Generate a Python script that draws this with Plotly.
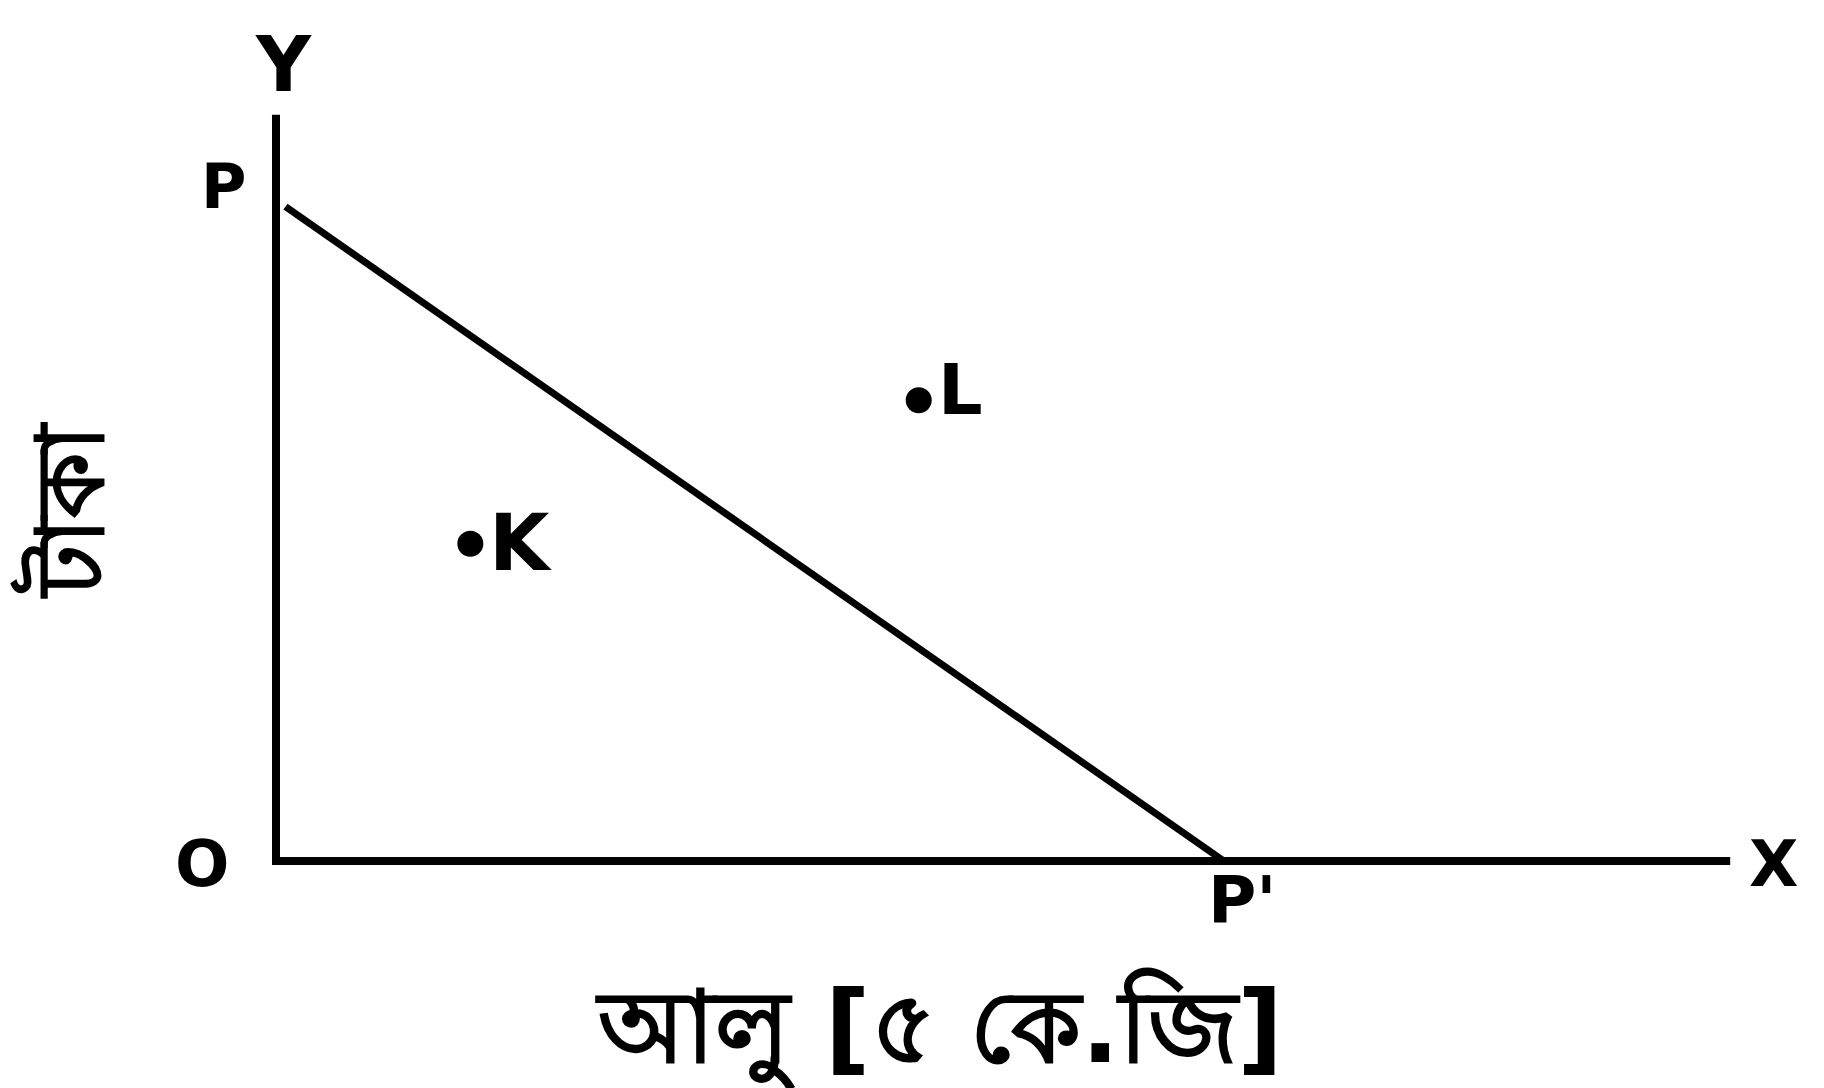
import plotly.graph_objects as go

# Data (diagram units: P' at x=10, P at y=10)
axis_x = [0, 0, 15.34]
axis_y = [11.29, 0, 0]
budget_x = [0.1, 10]
budget_y = [9.9, 0]
point_names = ["K", "L"]
point_x = [2.05, 6.78]
point_y = [4.8, 6.97]

x_title = "আলু [৫ কে.জি]"
y_title = "টাকা"

fig = go.Figure()
fig.add_trace(go.Scatter(x=axis_x, y=axis_y, mode="lines",
                         line=dict(color="black", width=8), hoverinfo="skip"))
fig.add_trace(go.Scatter(x=budget_x, y=budget_y, mode="lines",
                         line=dict(color="black", width=7), hoverinfo="skip"))
fig.add_trace(go.Scatter(x=point_x, y=point_y, mode="markers",
                         marker=dict(color="black", size=26), hoverinfo="skip"))

font = "DejaVu Sans"
labels = [
    ("Y", 0.08, 12.05, 76),
    ("P", -0.55, 10.2, 62),
    ("O", -0.78, -0.05, 64),
    ("P'", 10.2, -0.6, 66),
    ("X", 15.8, -0.05, 64),
    ("K", 2.58, 4.81, 78),
    ("L", 7.22, 7.13, 70),
]
for t, x, y, s in labels:
    fig.add_annotation(x=x, y=y, text="<b>" + t + "</b>", showarrow=False,
                       font=dict(family=font, size=s, color="black"))

fig.add_annotation(x=6.99, y=-2.55, text="<b>" + x_title + "</b>", showarrow=False,
                   font=dict(family=font, size=100, color="black"))
fig.add_annotation(x=-2.2, y=5.3, text="<b>" + y_title + "</b>", showarrow=False,
                   textangle=-90,
                   font=dict(family=font, size=94, color="black"))

fig.update_xaxes(range=[-2.827, 16.414], visible=False)
fig.update_yaxes(range=[-3.555, 12.905], visible=False)
fig.update_layout(width=1824, height=1088, margin=dict(l=0, r=0, t=0, b=0),
                  plot_bgcolor="white", paper_bgcolor="white", showlegend=False)

fig.write_html("out.html")
